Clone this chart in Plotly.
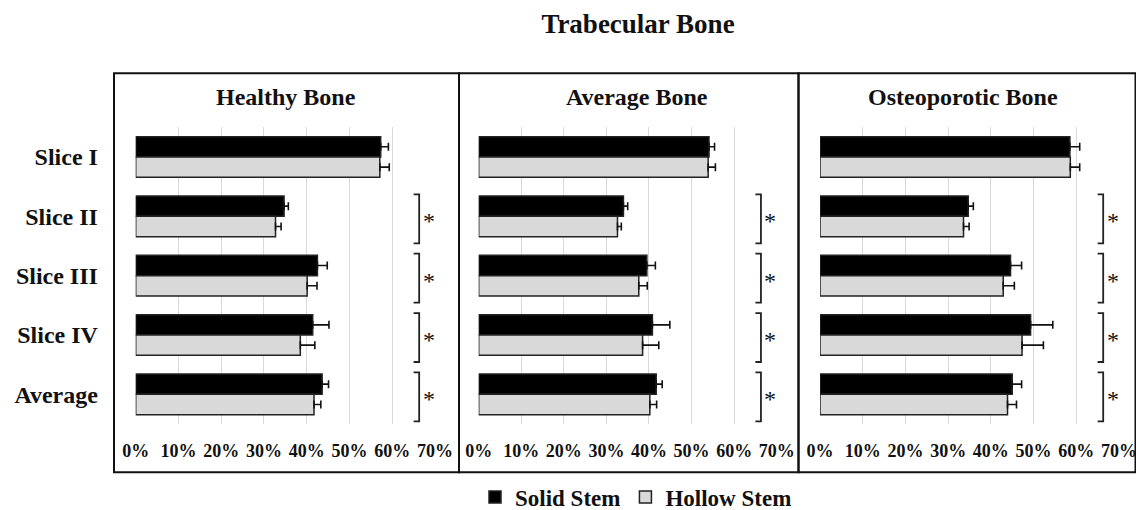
import plotly.graph_objects as go
from plotly.subplots import make_subplots

categories = ["Slice I", "Slice II", "Slice III", "Slice IV", "Average"]
panel_titles = ["Healthy Bone", "Average Bone", "Osteoporotic Bone"]
significant = [False, True, True, True, True]
x_ticks = [0, 10, 20, 30, 40, 50, 60, 70]

# values (%), error = upper whisker length
healthy_solid = [57.3, 34.7, 42.5, 41.4, 43.6]
healthy_solid_err = [1.8, 1.0, 2.3, 3.8, 1.5]
healthy_hollow = [57.1, 32.7, 40.1, 38.5, 41.7]
healthy_hollow_err = [2.2, 1.3, 2.3, 3.4, 1.6]

average_solid = [54.1, 34.0, 39.5, 40.8, 41.7]
average_solid_err = [1.3, 1.0, 2.0, 4.1, 1.4]
average_hollow = [53.9, 32.6, 37.6, 38.5, 40.2]
average_hollow_err = [1.7, 0.9, 2.0, 3.8, 1.6]

osteo_solid = [58.5, 34.7, 44.6, 49.3, 45.0]
osteo_solid_err = [2.3, 1.2, 2.6, 5.2, 2.2]
osteo_hollow = [58.6, 33.6, 42.9, 47.3, 43.9]
osteo_hollow_err = [2.2, 1.3, 2.6, 5.0, 2.1]

panels = [
    (healthy_solid, healthy_solid_err, healthy_hollow, healthy_hollow_err),
    (average_solid, average_solid_err, average_hollow, average_hollow_err),
    (osteo_solid, osteo_solid_err, osteo_hollow, osteo_hollow_err),
]

W, H = 1136, 510
FONT = "Liberation Serif, Times New Roman, serif"


def px(x):
    return x / W


def py(y):
    return 1 - y / H


# pixel layout of each panel (plot area left/right, title centre, box)
x_domains = [(135.7, 435.0), (478.7, 776.7), (820.0, 1119.0)]
title_x = [286, 637, 963]
boxes = [(114, 459), (459, 798.5), (798.5, 1135.5)]

fig = make_subplots(rows=1, cols=3, shared_yaxes=True)

for i, (solid, solid_err, hollow, hollow_err) in enumerate(panels):
    col = i + 1
    fig.add_trace(
        go.Bar(
            y=categories,
            x=solid,
            orientation="h",
            name="Solid Stem",
            marker=dict(color="#000000", line=dict(color="#222222", width=1.5)),
            error_x=dict(type="data", array=solid_err, arrayminus=[0] * 5,
                         color="#111111", thickness=1.6, width=4),
            showlegend=(i == 0),
            legendgroup="solid",
        ),
        row=1, col=col,
    )
    fig.add_trace(
        go.Bar(
            y=categories,
            x=hollow,
            orientation="h",
            name="Hollow Stem",
            marker=dict(color="#d9d9d9", line=dict(color="#222222", width=1.5)),
            error_x=dict(type="data", array=hollow_err, arrayminus=[0] * 5,
                         color="#111111", thickness=1.6, width=4),
            showlegend=(i == 0),
            legendgroup="hollow",
        ),
        row=1, col=col,
    )

    xa = "x" if i == 0 else f"x{col}"
    ya = "y" if i == 0 else f"y{col}"

    # significance brackets and asterisks
    for k, sig in enumerate(significant):
        if not sig:
            continue
        top, bot = k - 0.37, k + 0.455
        fig.add_shape(
            type="path",
            path=f"M 65.0,{top} L 66.3,{top} L 66.3,{bot} L 65.0,{bot}",
            xref=xa, yref=ya,
            line=dict(color="#222222", width=1.8),
        )
        fig.add_annotation(
            x=68.5, y=k + 0.085, xref=xa, yref=ya,
            text="*", showarrow=False,
            font=dict(family=FONT, size=24, color="#111111"),
            xanchor="center", yanchor="middle",
        )

    # panel title
    fig.add_annotation(
        x=px(title_x[i]), y=py(97), xref="paper", yref="paper",
        text=f"<b>{panel_titles[i]}</b>", showarrow=False,
        font=dict(family=FONT, size=24, color="#111111"),
        xanchor="center", yanchor="middle",
    )

    # panel frame
    x0, x1 = boxes[i]
    fig.add_shape(
        type="rect", xref="paper", yref="paper",
        x0=px(x0), x1=px(x1), y0=py(472.3), y1=py(73.3),
        line=dict(color="#111111", width=2),
    )

    fig.update_xaxes(
        range=[0, 70],
        domain=[px(x_domains[i][0]), px(x_domains[i][1])],
        tickvals=x_ticks,
        ticktext=[f"{v}%" for v in x_ticks],
        ticklabeloverflow="allow",
        showgrid=True, gridcolor="#d9d9d9", gridwidth=1,
        zeroline=False, showline=False, automargin=False,
        ticks="outside", ticklen=10, tickcolor="rgba(0,0,0,0)",
        tickfont=dict(family=FONT, size=18, color="#111111", weight="bold"),
        row=1, col=col,
    )
    fig.update_yaxes(
        categoryorder="array", categoryarray=categories,
        range=[4.5, -0.5],
        domain=[py(424), py(127.3)],
        showgrid=False, zeroline=False, showline=False, automargin=False,
        row=1, col=col,
    )

fig.update_yaxes(
    showticklabels=True, ticks="outside", ticklen=32, tickcolor="rgba(0,0,0,0)",
    tickfont=dict(family=FONT, size=24, color="#111111", weight="bold"),
    row=1, col=1,
)

fig.update_layout(
    width=W, height=H,
    margin=dict(l=0, r=0, t=0, b=0, autoexpand=False),
    paper_bgcolor="white",
    plot_bgcolor="white",
    barmode="group",
    bargap=0.315,
    bargroupgap=0,
    title=dict(
        text="<b>Trabecular Bone</b>",
        x=px(638), y=py(24), xanchor="center", yanchor="middle",
        font=dict(family=FONT, size=27, color="#111111"),
    ),
    legend=dict(
        orientation="h",
        x=px(636), y=py(497), xanchor="center", yanchor="middle",
        font=dict(family=FONT, size=23, color="#111111", weight="bold"),
        itemwidth=30,
        traceorder="normal",
    ),
    showlegend=True,
)

# drop the default page margin so the figure sits at the window's corner
fig.write_html(
    "out.html",
    config={"displayModeBar": False},
    post_script="document.body.style.margin = '0';",
)
